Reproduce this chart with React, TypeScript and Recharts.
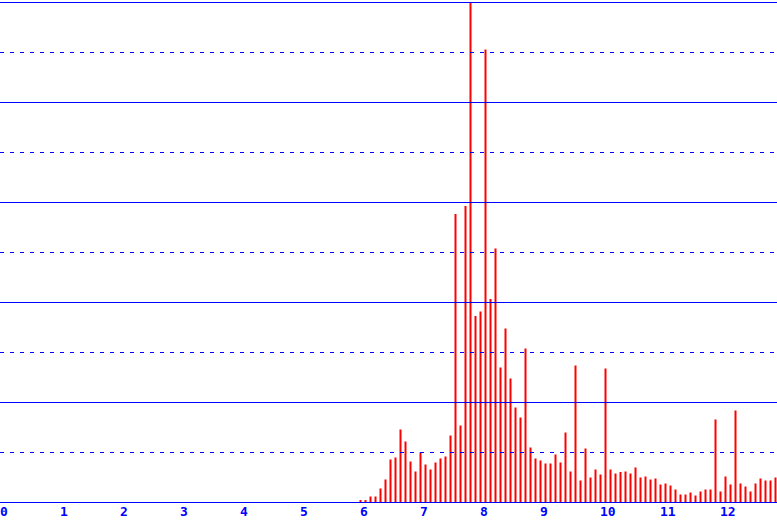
import React from 'react';
import { BarChart, Bar, XAxis, YAxis, ReferenceLine } from 'recharts';

// histogram bins: first bin starts at 6, each bin is 1/12 wide
const BIN_START = 6;
const BIN_WIDTH = 1 / 12;

const binValues = [
    0.05, 0.05, 0.12, 0.12, 0.28, 0.46, 0.86, 0.9, 1.46, 1.22, 0.82, 0.62,
    1.0, 0.76, 0.66, 0.8, 0.88, 0.92, 1.34, 5.77, 1.54, 5.93, 10, 3.73,
    3.82, 9.06, 4.07, 5.08, 2.7, 3.48, 2.48, 1.9, 1.7, 3.08, 1.1, 0.88,
    0.84, 0.78, 0.78, 0.96, 0.8, 1.4, 0.62, 2.74, 0.44, 1.08, 0.5, 0.66,
    0.56, 2.68, 0.66, 0.58, 0.61, 0.62, 0.58, 0.7, 0.5, 0.52, 0.46, 0.48,
    0.36, 0.38, 0.34, 0.26, 0.16, 0.16, 0.2, 0.14, 0.22, 0.26, 0.26, 1.66,
    0.22, 0.52, 0.36, 1.84, 0.38, 0.32, 0.22, 0.38, 0.48, 0.44, 0.44, 0.5,
];

const xTicks = [0, 1, 2, 3, 4, 5, 6, 7, 8, 9, 10, 11, 12];
const solidLines = [0, 2, 4, 6, 8, 10];
const dottedLines = [1, 3, 5, 7, 9];

const BLUE = '#0000ff';
const RED = '#ff0000';

const chartData = binValues.map((v, i) => ({ x: BIN_START + i * BIN_WIDTH, value: v }));

const XTick = (props: any) => {
    const { x, y, payload } = props;
    return (
        <text
            x={x - 1}
            y={y + 11.5}
            textAnchor="start"
            fill={BLUE}
            fontFamily="'DejaVu Sans Mono', monospace"
            fontWeight="bold"
            fontSize={13}
        >
            {payload.value}
        </text>
    );
};

export default function App() {
    return (
        <div style={{ position: 'absolute', left: 0, top: 0, width: 777, height: 522, background: '#fff' }}>
            <BarChart width={777} height={522} data={chartData} margin={{ top: 2.5, right: 0, bottom: 0, left: 0 }}>
                <XAxis
                    dataKey="x"
                    type="number"
                    domain={[-1 / 60, 776 / 60]}
                    ticks={xTicks}
                    allowDataOverflow
                    height={19.5}
                    axisLine={false}
                    tickLine={false}
                    tickSize={0}
                    tick={<XTick />}
                    interval={0}
                />
                <YAxis hide domain={[0, 10]} allowDataOverflow />
                {dottedLines.map((v) => (
                    <ReferenceLine key={`d-${v}`} y={v} stroke={BLUE} strokeDasharray="4 6" />
                ))}
                {solidLines.map((v) => (
                    <ReferenceLine key={`s-${v}`} y={v} stroke={BLUE} />
                ))}
                <Bar dataKey="value" fill={RED} barSize={2} isAnimationActive={false} />
            </BarChart>
        </div>
    );
}
